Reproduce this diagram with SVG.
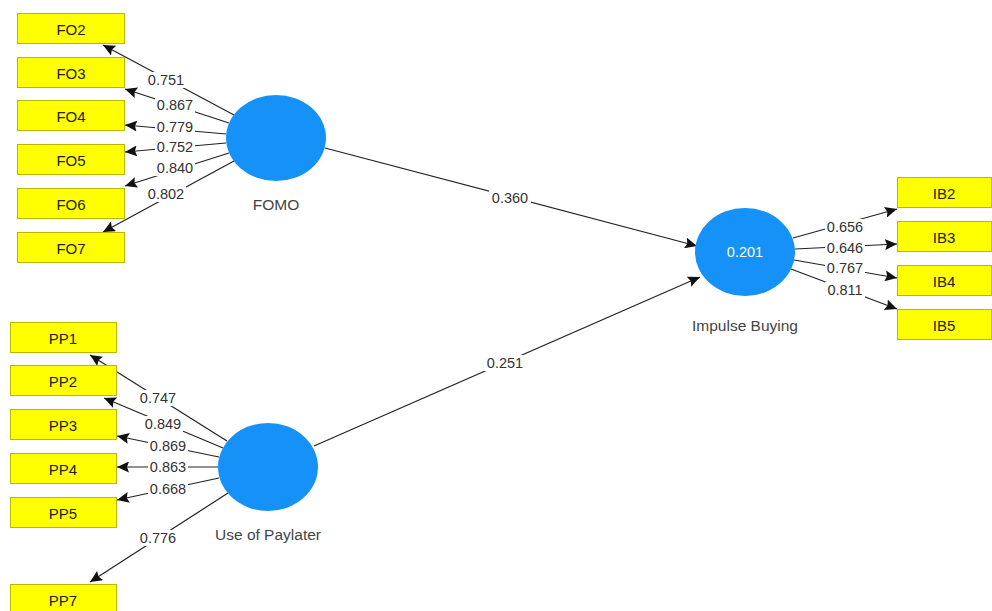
<svg xmlns="http://www.w3.org/2000/svg" width="992" height="611" viewBox="0 0 992 611">
<defs>
<marker id="ah" markerUnits="userSpaceOnUse" markerWidth="13" markerHeight="11" refX="12" refY="5.5" orient="auto">
<path d="M0,0 L12,5.5 L0,11 L2,5.5 z" fill="#111"/>
</marker>
<style>
.box{fill:#ffff00;stroke:#b8b800;stroke-width:1}
.lv{fill:#1591f7}
.bt{font-family:"Liberation Sans",Arial,sans-serif;font-size:15px;fill:#222;text-anchor:middle;dominant-baseline:central}
.nt{font-family:"Liberation Sans",Arial,sans-serif;font-size:15.5px;fill:#444;text-anchor:middle;dominant-baseline:central}
.wt{font-family:"Liberation Sans",Arial,sans-serif;font-size:14.5px;fill:#ffffff;text-anchor:middle;dominant-baseline:central}
.ln{stroke:#222;stroke-width:1.2;fill:none;marker-end:url(#ah)}
.lb{fill:#fff}
.et{font-family:"Liberation Sans",Arial,sans-serif;font-size:14.5px;fill:#333;text-anchor:middle;dominant-baseline:central}
</style>
</defs>
<rect width="992" height="611" fill="#fff"/>
<g id="connectors">
<line class="ln" x1="234" y1="115" x2="103" y2="45"/>
<line class="ln" x1="229" y1="123" x2="125" y2="89"/>
<line class="ln" x1="226" y1="134" x2="125" y2="125"/>
<line class="ln" x1="226" y1="143" x2="125" y2="152"/>
<line class="ln" x1="229" y1="153" x2="125" y2="186"/>
<line class="ln" x1="234" y1="161" x2="103" y2="232"/>
<line class="ln" x1="227" y1="441" x2="90" y2="355"/>
<line class="ln" x1="223" y1="448" x2="104" y2="398"/>
<line class="ln" x1="219" y1="457" x2="117" y2="436"/>
<line class="ln" x1="218" y1="467" x2="117" y2="467"/>
<line class="ln" x1="219" y1="478" x2="117" y2="500"/>
<line class="ln" x1="228" y1="493" x2="90" y2="582"/>
<line class="ln" x1="793" y1="238" x2="897" y2="209"/>
<line class="ln" x1="795" y1="249" x2="897" y2="244"/>
<line class="ln" x1="794" y1="260" x2="897" y2="278"/>
<line class="ln" x1="791" y1="269" x2="897" y2="309"/>
<line class="ln" x1="325" y1="148" x2="697" y2="246"/>
<line class="ln" x1="314" y1="446" x2="700" y2="277"/>
<g id="edge-labels">
<rect class="lb" x="146" y="72" width="40" height="16"/><text class="et" x="166" y="80">0.751</text>
<rect class="lb" x="155" y="97" width="40" height="16"/><text class="et" x="175" y="105">0.867</text>
<rect class="lb" x="155" y="119" width="40" height="16"/><text class="et" x="175" y="127">0.779</text>
<rect class="lb" x="155" y="139" width="40" height="16"/><text class="et" x="175" y="147">0.752</text>
<rect class="lb" x="155" y="160" width="40" height="16"/><text class="et" x="175" y="168">0.840</text>
<rect class="lb" x="146" y="186" width="40" height="16"/><text class="et" x="166" y="194">0.802</text>
<rect class="lb" x="138" y="390" width="40" height="16"/><text class="et" x="158" y="398">0.747</text>
<rect class="lb" x="143" y="416" width="40" height="16"/><text class="et" x="163" y="424">0.849</text>
<rect class="lb" x="148" y="438" width="40" height="16"/><text class="et" x="168" y="446">0.869</text>
<rect class="lb" x="148" y="459" width="40" height="16"/><text class="et" x="168" y="467">0.863</text>
<rect class="lb" x="148" y="481" width="40" height="16"/><text class="et" x="168" y="489">0.668</text>
<rect class="lb" x="138" y="530" width="40" height="16"/><text class="et" x="158" y="538">0.776</text>
<rect class="lb" x="825" y="219" width="40" height="16"/><text class="et" x="845" y="227">0.656</text>
<rect class="lb" x="825" y="240" width="40" height="16"/><text class="et" x="845" y="248">0.646</text>
<rect class="lb" x="825" y="260" width="40" height="16"/><text class="et" x="845" y="268">0.767</text>
<rect class="lb" x="825" y="282" width="40" height="16"/><text class="et" x="845" y="290">0.811</text>
<rect class="lb" x="489" y="190" width="42" height="16"/><text class="et" x="510" y="198">0.360</text>
<rect class="lb" x="484" y="355" width="42" height="16"/><text class="et" x="505" y="363">0.251</text>
</g>
</g>
<g id="FO2"><rect class="box" x="17.5" y="13.5" width="107" height="30"/><text class="bt" x="71" y="29">FO2</text></g>
<g id="FO3"><rect class="box" x="17.5" y="57.5" width="107" height="30"/><text class="bt" x="71" y="73">FO3</text></g>
<g id="FO4"><rect class="box" x="17.5" y="100.5" width="107" height="30"/><text class="bt" x="71" y="116">FO4</text></g>
<g id="FO5"><rect class="box" x="17.5" y="144.5" width="107" height="30"/><text class="bt" x="71" y="160">FO5</text></g>
<g id="FO6"><rect class="box" x="17.5" y="188.5" width="107" height="30"/><text class="bt" x="71" y="204">FO6</text></g>
<g id="FO7"><rect class="box" x="17.5" y="232.5" width="107" height="30"/><text class="bt" x="71" y="248">FO7</text></g>
<g id="PP1"><rect class="box" x="10.5" y="322.5" width="106" height="30"/><text class="bt" x="63" y="338">PP1</text></g>
<g id="PP2"><rect class="box" x="10.5" y="365.5" width="106" height="30"/><text class="bt" x="63" y="381">PP2</text></g>
<g id="PP3"><rect class="box" x="10.5" y="409.5" width="106" height="30"/><text class="bt" x="63" y="425">PP3</text></g>
<g id="PP4"><rect class="box" x="10.5" y="453.5" width="106" height="30"/><text class="bt" x="63" y="469">PP4</text></g>
<g id="PP5"><rect class="box" x="10.5" y="497.5" width="106" height="30"/><text class="bt" x="63" y="513">PP5</text></g>
<g id="PP7"><rect class="box" x="10.5" y="584.5" width="106" height="30"/><text class="bt" x="63" y="600">PP7</text></g>
<g id="IB2"><rect class="box" x="897.5" y="177.5" width="94" height="30"/><text class="bt" x="944" y="193">IB2</text></g>
<g id="IB3"><rect class="box" x="897.5" y="221.5" width="94" height="30"/><text class="bt" x="944" y="237">IB3</text></g>
<g id="IB4"><rect class="box" x="897.5" y="265.5" width="94" height="30"/><text class="bt" x="944" y="281">IB4</text></g>
<g id="IB5"><rect class="box" x="897.5" y="309.5" width="94" height="30"/><text class="bt" x="944" y="325">IB5</text></g>
<g id="FOMO"><ellipse class="lv" cx="276" cy="138" rx="50" ry="43"/><text class="nt" x="276" y="204">FOMO</text></g>
<g id="UseOfPaylater"><ellipse class="lv" cx="268" cy="467" rx="50" ry="44"/><text class="nt" x="268" y="534">Use of Paylater</text></g>
<g id="ImpulseBuying"><ellipse class="lv" cx="745" cy="252" rx="50" ry="44"/><text class="wt" x="745" y="252">0.201</text><text class="nt" x="745" y="325">Impulse Buying</text></g>
</svg>
